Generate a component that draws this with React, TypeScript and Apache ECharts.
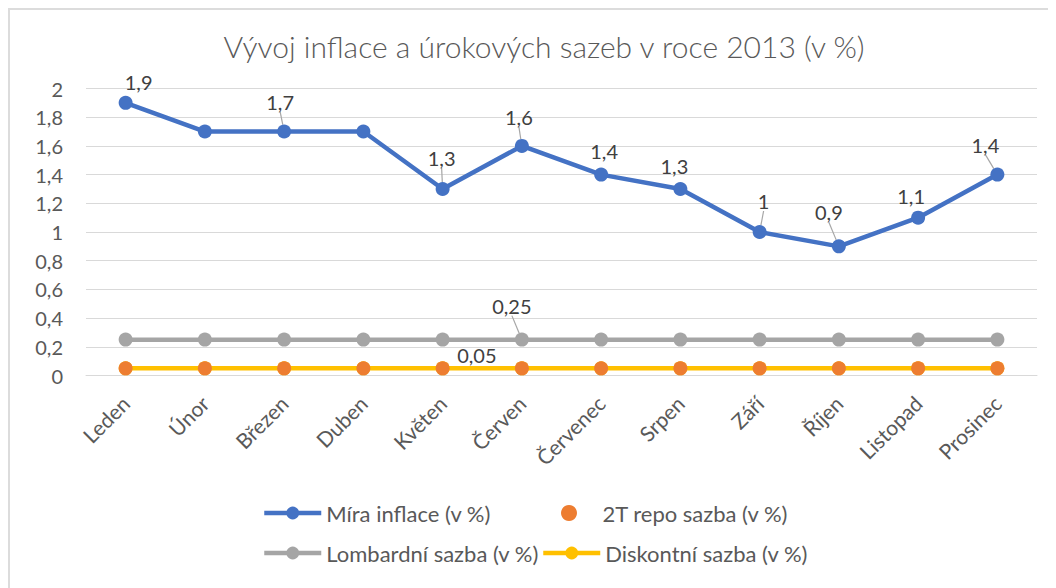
import React, { useEffect, useRef } from "react";
import * as echarts from "echarts";

const months = ["Leden", "Únor", "Březen", "Duben", "Květen", "Červen", "Červenec", "Srpen", "Září", "Říjen", "Listopad", "Prosinec"];
const inflation = [1.9, 1.7, 1.7, 1.7, 1.3, 1.6, 1.4, 1.3, 1.0, 0.9, 1.1, 1.4];
const repo2T = [0.05, 0.05, 0.05, 0.05, 0.05, 0.05, 0.05, 0.05, 0.05, 0.05, 0.05, 0.05];
const lombard = [0.25, 0.25, 0.25, 0.25, 0.25, 0.25, 0.25, 0.25, 0.25, 0.25, 0.25, 0.25];
const discount = [0.05, 0.05, 0.05, 0.05, 0.05, 0.05, 0.05, 0.05, 0.05, 0.05, 0.05, 0.05];

const seriesNames = ["Míra inflace (v %)", "2T repo sazba (v %)", "Lombardní sazba (v %)", "Diskontní sazba (v %)"];
const yTicks = [0, 0.2, 0.4, 0.6, 0.8, 1, 1.2, 1.4, 1.6, 1.8, 2];

// which inflation points carry a data label, and where the labels sit (dx, dy from the point)
const inflationLabelShown = [true, false, true, false, true, true, true, true, true, true, true, true];
const inflationLabelLine = [false, false, true, false, true, true, false, false, true, true, false, true];
const inflationLabelOffset: [number, number][] = [
  [13, -21], [0, 0], [-4, -30], [0, 0], [-1, -31], [-3, -29], [3, -24], [-6, -23], [4, -31], [-10, -34], [-7, -22], [-12, -30],
];
const lombardLabelIndex = 5;
const lombardLabelOffset: [number, number] = [-10, -34];
const discountLabelIndex = 5;
const discountLabelOffset: [number, number] = [-45, -13];

// legend item positions (left, top) in chart pixels
const legendLeft = [247, 546, 247, 526];
const legendTop = [487, 487, 527, 527];

const FONT = "Lato, 'Noto Sans', sans-serif";
const fmt = (v: number) => String(Math.round(v * 100) / 100).replace(".", ",");

export default function App() {
  const ref = useRef<HTMLDivElement>(null);
  useEffect(() => {
    if (!ref.current) return;
    const chart = echarts.init(ref.current, null, { renderer: "svg" });
    const labelStyle = { color: "#404040", fontSize: 20, fontFamily: FONT, position: "inside" as const };
    const lineStyleLabel = { show: true, lineStyle: { color: "#a6a6a6", width: 1.2 }, length2: 0 };

    const option: any = {
      animation: false,
      backgroundColor: "#ffffff",
      title: {
        text: "Vývoj inflace a úrokových sazeb v roce 2013 (v %)",
        left: 529,
        top: 16,
        textAlign: "center",
        textStyle: { color: "#595959", fontSize: 30, fontWeight: 300, fontFamily: FONT },
      },
      grid: { left: 76, right: 19, top: 78.5, height: 287, containLabel: false },
      xAxis: {
        type: "category",
        data: months,
        boundaryGap: true,
        axisLine: { show: true, lineStyle: { color: "#d9d9d9", width: 1 } },
        axisTick: { show: false },
        axisLabel: { rotate: 45, margin: 24, color: "#595959", fontSize: 21, fontFamily: FONT, interval: 0 },
      },
      yAxis: {
        type: "value",
        min: 0,
        max: 2,
        interval: 0.2,
        axisLine: { show: false },
        axisTick: { show: false },
        splitLine: { show: true, lineStyle: { color: "#d9d9d9", width: 1 } },
        axisLabel: {
          margin: 23,
          color: "#595959",
          fontSize: 20,
          fontFamily: FONT,
          formatter: (v: number) => {
            const t = yTicks.find((x) => Math.abs(x - v) < 1e-6);
            return fmt(t === undefined ? v : t);
          },
        },
      },
      legend: [0, 1, 2, 3].map((i) => ({
        data: [seriesNames[i]],
        left: legendLeft[i],
        top: legendTop[i],
        itemWidth: 57,
        itemHeight: 16,
        lineStyle: { width: i === 1 ? 0 : 4.5 },
        textStyle: { color: "#595959", fontSize: 22, fontFamily: FONT },
        icon: i === 1 ? "circle" : undefined,
      })),
      series: [
        {
          name: seriesNames[0],
          type: "line",
          z: 5,
          data: inflation.map((v, i) => ({
            value: v,
            label: { show: inflationLabelShown[i] },
            labelLine: { show: inflationLabelLine[i] },
          })),
          symbol: "circle",
          symbolSize: 14,
          color: "#4472C4",
          lineStyle: { width: 4.5, color: "#4472C4" },
          itemStyle: { color: "#4472C4" },
          label: { ...labelStyle, formatter: (p: any) => fmt(p.value) },
          labelLine: lineStyleLabel,
          labelLayout: (p: any) => ({ dx: inflationLabelOffset[p.dataIndex][0], dy: inflationLabelOffset[p.dataIndex][1] }),
        },
        {
          name: seriesNames[1],
          type: "line",
          z: 4,
          data: repo2T,
          symbol: "circle",
          symbolSize: 14,
          color: "#ED7D31",
          lineStyle: { width: 0, opacity: 0 },
          itemStyle: { color: "#ED7D31" },
        },
        {
          name: seriesNames[2],
          type: "line",
          z: 3,
          data: lombard.map((v, i) => ({ value: v, label: { show: i === lombardLabelIndex } })),
          symbol: "circle",
          symbolSize: 14,
          color: "#A5A5A5",
          lineStyle: { width: 4.5, color: "#A5A5A5" },
          itemStyle: { color: "#A5A5A5" },
          label: { ...labelStyle, formatter: (p: any) => fmt(p.value) },
          labelLine: lineStyleLabel,
          labelLayout: () => ({ dx: lombardLabelOffset[0], dy: lombardLabelOffset[1] }),
        },
        {
          name: seriesNames[3],
          type: "line",
          z: 2,
          data: discount.map((v, i) => ({ value: v, label: { show: i === discountLabelIndex } })),
          symbol: "circle",
          symbolSize: 14,
          color: "#FFC000",
          lineStyle: { width: 4.5, color: "#FFC000" },
          itemStyle: { color: "#FFC000" },
          label: { ...labelStyle, formatter: (p: any) => fmt(p.value) },
          labelLayout: () => ({ dx: discountLabelOffset[0], dy: discountLabelOffset[1] }),
        },
      ],
    };
    chart.setOption(option);
    return () => chart.dispose();
  }, []);

  return (
    <div
      style={{
        width: 1048,
        height: 580,
        boxSizing: "border-box",
        borderTop: "2px solid #dcdcdc",
        borderLeft: "2px solid #dcdcdc",
        background: "#fff",
      }}
    >
      <div ref={ref} style={{ width: 1046, height: 578 }} />
    </div>
  );
}
